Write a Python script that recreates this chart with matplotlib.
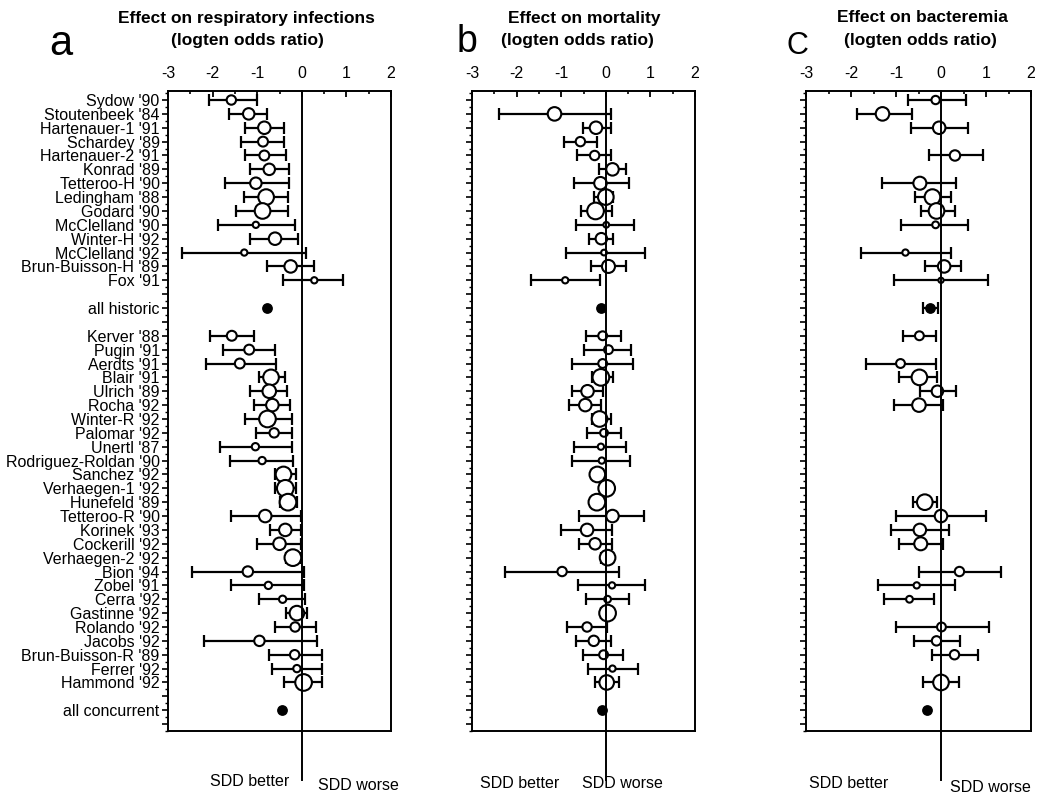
import numpy as np
import matplotlib
matplotlib.use("Agg")
import matplotlib.pyplot as plt
from matplotlib.ticker import MultipleLocator

plt.rcParams["font.family"] = ["Liberation Sans", "DejaVu Sans"]
plt.rcParams["axes.unicode_minus"] = False

nan = np.nan

# study labels, historic controls first, then concurrent controls
historic = [
    "Sydow '90", "Stoutenbeek '84", "Hartenauer-1 '91", "Schardey '89",
    "Hartenauer-2 '91", "Konrad '89", "Tetteroo-H '90", "Ledingham '88",
    "Godard '90", "McClelland '90", "Winter-H '92", "McClelland '92",
    "Brun-Buisson-H '89", "Fox '91",
]
concurrent = [
    "Kerver '88", "Pugin '91", "Aerdts '91", "Blair '91", "Ulrich '89",
    "Rocha '92", "Winter-R '92", "Palomar '92", "Unertl '87",
    "Rodriguez-Roldan '90", "Sanchez '92", "Verhaegen-1 '92", "Hunefeld '89",
    "Tetteroo-R '90", "Korinek '93", "Cockerill '92", "Verhaegen-2 '92",
    "Bion '94", "Zobel '91", "Cerra '92", "Gastinne '92", "Rolando '92",
    "Jacobs '92", "Brun-Buisson-R '89", "Ferrer '92", "Hammond '92",
]
pooled_labels = ["all historic", "all concurrent"]

# (a) respiratory infections, log10 odds ratio
resp_est = [-1.58, -1.19, -0.84, -0.87, -0.84, -0.73, -1.03, -0.80, -0.88, -1.03,
            -0.60, -1.29, -0.25, 0.28,
            -1.57, -1.18, -1.39, -0.69, -0.73, -0.66, -0.77, -0.62, -1.04, -0.89,
            -0.41, -0.37, -0.31, -0.82, -0.37, -0.50, -0.20, -1.21, -0.75, -0.43,
            -0.11, -0.15, -0.95, -0.16, -0.11, 0.04]
resp_lo = [-2.09, -1.64, -1.28, -1.37, -1.28, -1.16, -1.73, -1.30, -1.47, -1.87,
           -1.16, -2.69, -0.77, -0.42,
           -2.05, -1.76, -2.15, -0.96, -1.16, -1.07, -1.27, -1.02, -1.84, -1.62,
           -0.61, -0.61, -0.50, -1.58, -0.71, -1.00, -0.35, -2.46, -1.58, -0.95,
           -0.35, -0.60, -2.20, -0.74, -0.66, -0.39]
resp_hi = [-1.01, -0.77, -0.41, -0.39, -0.35, -0.28, -0.28, -0.30, -0.31, -0.16,
           -0.08, 0.09, 0.28, 0.93,
           -1.07, -0.60, -0.58, -0.38, -0.34, -0.26, -0.23, -0.23, -0.22, -0.19,
           -0.13, -0.13, -0.10, -0.01, -0.01, -0.01, -0.05, 0.04, 0.04, 0.08,
           0.12, 0.31, 0.34, 0.45, 0.45, 0.45]
resp_weight = [9, 11, 12, 9.5, 9.5, 11, 11, 15, 15, 6, 12, 6, 12, 6,
               9.5, 9.5, 9.5, 15, 13, 12, 16, 9, 7, 7, 15, 16, 16, 12, 12, 12,
               16, 10, 7, 7, 14, 9, 10, 9, 7, 16]
resp_pooled = [-0.77, -0.44]
resp_pooled_lo = [nan, nan]
resp_pooled_hi = [nan, nan]

# (b) mortality
mort_est = [nan, -1.15, -0.22, -0.57, -0.25, 0.15, -0.12, 0.00, -0.23, 0.01,
            -0.10, -0.04, 0.06, -0.91,
            -0.07, 0.06, -0.07, -0.11, -0.41, -0.46, -0.14, -0.04, -0.11, -0.09,
            -0.19, 0.02, -0.20, 0.15, -0.42, -0.24, 0.04, -0.98, 0.14, 0.04,
            0.04, -0.42, -0.27, -0.05, 0.15, 0.02]
mort_lo = [nan, -2.39, -0.51, -0.94, -0.64, -0.15, -0.72, -0.27, -0.55, -0.66,
           -0.37, -0.90, -0.33, -1.67,
           -0.45, -0.48, -0.75, -0.32, -0.76, -0.83, -0.30, -0.43, -0.72, -0.76,
           -0.30, -0.12, -0.32, -0.59, -1.01, -0.59, -0.10, -2.27, -0.63, -0.45,
           -0.10, -0.87, -0.66, -0.51, -0.40, -0.25]
mort_hi = [nan, 0.11, 0.11, -0.19, 0.11, 0.45, 0.51, 0.16, 0.15, 0.63,
           0.16, 0.88, 0.45, -0.14,
           0.33, 0.57, 0.60, 0.17, -0.06, -0.10, 0.11, 0.33, 0.45, 0.55,
           -0.06, 0.15, -0.06, 0.85, 0.14, 0.13, 0.17, 0.29, 0.89, 0.53,
           0.17, 0.02, 0.11, 0.38, 0.72, 0.30]
mort_weight = [nan, 13, 12, 9, 9, 12, 12, 15, 16, 5.5, 11, 5.5, 12.5, 6,
               8.5, 8.5, 8.5, 16, 12, 12, 15, 7.5, 6, 6, 15, 16, 16, 12, 12, 11,
               15, 9, 6, 6.5, 16, 9, 10, 8.5, 6, 14]
mort_pooled = [-0.10, -0.08]
mort_pooled_lo = [nan, nan]
mort_pooled_hi = [nan, nan]

# (c) bacteremia
bact_est = [-0.12, -1.30, -0.04, nan, 0.31, nan, -0.47, -0.19, -0.10, -0.12,
            nan, -0.79, 0.07, 0.00,
            -0.48, nan, -0.90, -0.48, -0.08, -0.49, nan, nan, nan, nan,
            nan, nan, -0.36, 0.00, -0.47, -0.45, nan, 0.41, -0.54, -0.70,
            nan, 0.01, -0.10, 0.30, nan, 0.00]
bact_lo = [-0.74, -1.87, -0.67, nan, -0.26, nan, -1.32, -0.58, -0.45, -0.89,
           nan, -1.78, -0.36, -1.04,
           -0.84, nan, -1.67, -0.93, -0.47, -1.04, nan, nan, nan, nan,
           nan, nan, -0.63, -0.99, -1.12, -0.93, nan, -0.50, -1.39, -1.26,
           nan, -0.99, -0.60, -0.21, nan, -0.41]
bact_hi = [0.56, -0.65, 0.59, nan, 0.93, nan, 0.34, 0.22, 0.30, 0.61,
           nan, 0.23, 0.44, 1.04,
           -0.12, nan, -0.12, -0.08, 0.34, 0.04, nan, nan, nan, nan,
           nan, nan, -0.10, 1.01, 0.17, 0.04, nan, 1.34, 0.31, -0.16,
           nan, 1.06, 0.43, 0.82, nan, 0.41]
bact_weight = [8, 13, 12, nan, 10, nan, 12.5, 15, 15, 6.5, nan, 6, 12, 5,
               8.5, nan, 8.5, 15, 11, 13, nan, nan, nan, nan, nan, nan,
               15, 12, 12, 12.5, nan, 9, 6, 6.5, nan, 8.5, 9, 9, nan, 15]
bact_pooled = [-0.24, -0.32]
bact_pooled_lo = [-0.41, nan]
bact_pooled_hi = [-0.06, nan]

W, H = 1054, 799
fig = plt.figure(figsize=(W / 100, H / 100), dpi=100)

study_rows = np.r_[np.arange(1, 15), np.arange(18, 44)]
pooled_rows = np.array([16, 45])
row_labels = [""] * 46
for r, name in zip(study_rows, historic + concurrent):
    row_labels[r - 1] = name
for r, name in zip(pooled_rows, pooled_labels):
    row_labels[r - 1] = name


def px_axes(left, top, right, bottom):
    return fig.add_axes([left / W, 1 - bottom / H, (right - left) / W, (bottom - top) / H])


def draw_panel(ax, est, lo, hi, weight, pooled, pooled_lo, pooled_hi, labels):
    est, lo, hi, weight = (np.asarray(v, float) for v in (est, lo, hi, weight))
    ok = ~np.isnan(est)
    y = study_rows[ok]
    ax.errorbar(est[ok], y, xerr=[est[ok] - lo[ok], hi[ok] - est[ok]], fmt="none",
                ecolor="black", elinewidth=1.6, capsize=4.5, capthick=1.6, zorder=2)
    ax.scatter(est[ok], y, s=(weight[ok] * 0.75) ** 2, facecolor="white",
               edgecolor="black", linewidths=1.5, zorder=3)

    pooled, pooled_lo, pooled_hi = (np.asarray(v, float) for v in (pooled, pooled_lo, pooled_hi))
    has_ci = ~np.isnan(pooled_lo)
    if has_ci.any():
        ax.errorbar(pooled[has_ci], pooled_rows[has_ci],
                    xerr=[pooled[has_ci] - pooled_lo[has_ci], pooled_hi[has_ci] - pooled[has_ci]],
                    fmt="none", ecolor="black", elinewidth=1.6, capsize=4.5, capthick=1.6, zorder=2)
    ax.scatter(pooled, pooled_rows, s=(9 * 0.75) ** 2, color="black", zorder=3)

    ax.set_xlim(-3, 2)
    ax.set_ylim(46.5, 0.35)
    ax.plot([0, 0], [0.35, 50.0], color="black", lw=1.4, clip_on=False, zorder=4)

    ax.xaxis.set_ticks_position("top")
    ax.xaxis.set_label_position("top")
    ax.set_xticks(range(-3, 3))
    ax.xaxis.set_minor_locator(MultipleLocator(0.5))
    ax.tick_params(axis="x", which="major", direction="in", length=4, width=1.3,
                   labelsize=11.5, pad=7)
    ax.tick_params(axis="x", which="minor", direction="in", length=2.5, width=1.2)

    ax.set_yticks(range(1, 47))
    ax.yaxis.set_minor_locator(MultipleLocator(0.5))
    ax.tick_params(axis="y", which="major", direction="out", length=4, width=1.2,
                   labelsize=11.5, pad=2)
    ax.tick_params(axis="y", which="minor", direction="out", length=2.5, width=1.0)
    ax.set_yticklabels(row_labels if labels else [])

    for spine in ax.spines.values():
        spine.set_linewidth(1.4)


ax_a = px_axes(168, 91, 391, 731)
ax_b = px_axes(472, 91, 695, 731)
ax_c = px_axes(806, 91, 1031, 731)

draw_panel(ax_a, resp_est, resp_lo, resp_hi, resp_weight,
           resp_pooled, resp_pooled_lo, resp_pooled_hi, True)
draw_panel(ax_b, mort_est, mort_lo, mort_hi, mort_weight,
           mort_pooled, mort_pooled_lo, mort_pooled_hi, False)
draw_panel(ax_c, bact_est, bact_lo, bact_hi, bact_weight,
           bact_pooled, bact_pooled_lo, bact_pooled_hi, False)


def ftext(x, y, s, **kw):
    fig.text(x / W, 1 - y / H, s, ha="center", va="center", **kw)


ftext(246, 18, "Effect on respiratory infections", fontsize=12.5, fontweight="bold")
ftext(247, 41, "(logten odds ratio)", fontsize=12.5, fontweight="bold")
ftext(584, 18, "Effect on mortality", fontsize=12.5, fontweight="bold")
ftext(577, 41, "(logten odds ratio)", fontsize=12.5, fontweight="bold")
ftext(922, 18, "Effect on bacteremia", fontsize=12.5, fontweight="bold")
ftext(920, 41, "(logten odds ratio)", fontsize=12.5, fontweight="bold")

ftext(61, 44, "a", fontsize=30)
ftext(467, 42, "b", fontsize=27)
ftext(797, 46, "C", fontsize=22)

ftext(250, 781, "SDD better", fontsize=11.5)
ftext(358, 786, "SDD worse", fontsize=11.5)
ftext(520, 783, "SDD better", fontsize=11.5)
ftext(622, 783, "SDD worse", fontsize=11.5)
ftext(849, 784, "SDD better", fontsize=11.5)
ftext(990, 788, "SDD worse", fontsize=11.5)

fig.savefig("out.png", dpi=100)
